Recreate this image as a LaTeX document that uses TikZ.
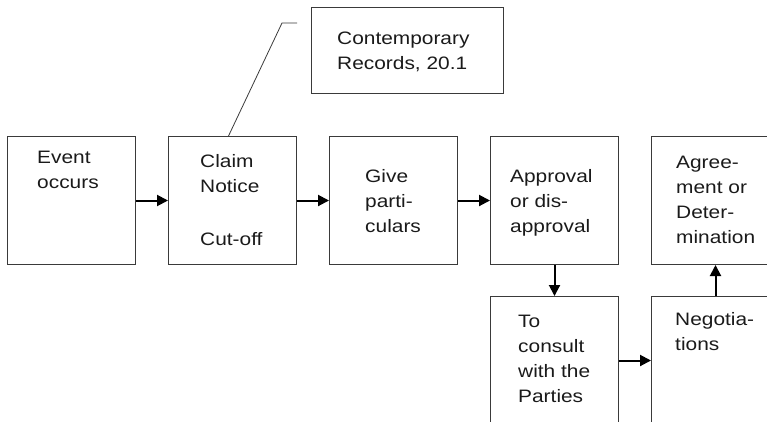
\documentclass[tikz,border=0pt]{standalone}
\usepackage{fontspec}
\setmainfont{Liberation Sans}[FakeStretch=1.16]
\usepackage{tikz}
\usetikzlibrary{arrows.meta,positioning}
\definecolor{frame}{HTML}{3A3A3A}
\definecolor{ink}{HTML}{1A1A1A}
\tikzset{box/.style={draw=frame,line width=1pt,minimum width=128pt,minimum height=128pt,inner sep=0pt},
         txt/.style={anchor=north west,inner sep=0pt,align=left,text=ink,font=\fontsize{18}{25}\selectfont},
         flow/.style={-{Triangle[length=11pt,width=11pt]},line width=2pt,draw=black}}

\begin{document}
\begin{tikzpicture}[x=1pt,y=-1pt,node distance=31pt and 32pt]
\clip (0,0) rectangle (767,421);
\node[box, anchor=north west] (event) at (7,136) {};
\node[box, right=of event] (claim) {};
\node[box, right=of claim] (give) {};
\node[box, right=of give] (appr) {};
\node[box, right=of appr] (agree) {};
\node[box, below=of appr] (consult) {};
\node[box, below=of agree] (nego) {};
\node[box, anchor=north west, minimum width=192pt, minimum height=86pt] (records) at (311,7) {};
\node[txt] (event-t) at ([shift={(30,15)}]event.north west) {Event\\occurs};
\node[txt] (claim-t) at ([shift={(32,18)}]claim.north west) {Claim\\Notice\\[28pt]Cut-off};
\node[txt] (give-t) at ([shift={(36,33)}]give.north west) {Give\\parti-\\culars};
\node[txt] (appr-t) at ([shift={(20,33)}]appr.north west) {Approval\\or dis-\\approval};
\node[txt] (agree-t) at ([shift={(25,20)}]agree.north west) {Agree-\\ment or\\Deter-\\mination};
\node[txt] (consult-t) at ([shift={(28,19)}]consult.north west) {To\\consult\\with the\\Parties};
\node[txt] (nego-t) at ([shift={(24,16)}]nego.north west) {Negotia-\\tions};
\node[txt] (records-t) at ([shift={(26,25)}]records.north west) {Contemporary\\Records, 20.1};
\coordinate (bend) at (282,23);
\coordinate (tip) at (297,23);
\draw[flow] (event) -- (claim);
\draw[flow] (claim) -- (give);
\draw[flow] (give) -- (appr);
\draw[flow] (appr) -- (consult);
\draw[flow] (consult) -- (nego);
\draw[flow] (nego) -- (agree);
\draw[frame, line width=0.8pt] ([xshift=-4pt]claim.north) -- (bend) -- (tip);
\end{tikzpicture}
\end{document}
